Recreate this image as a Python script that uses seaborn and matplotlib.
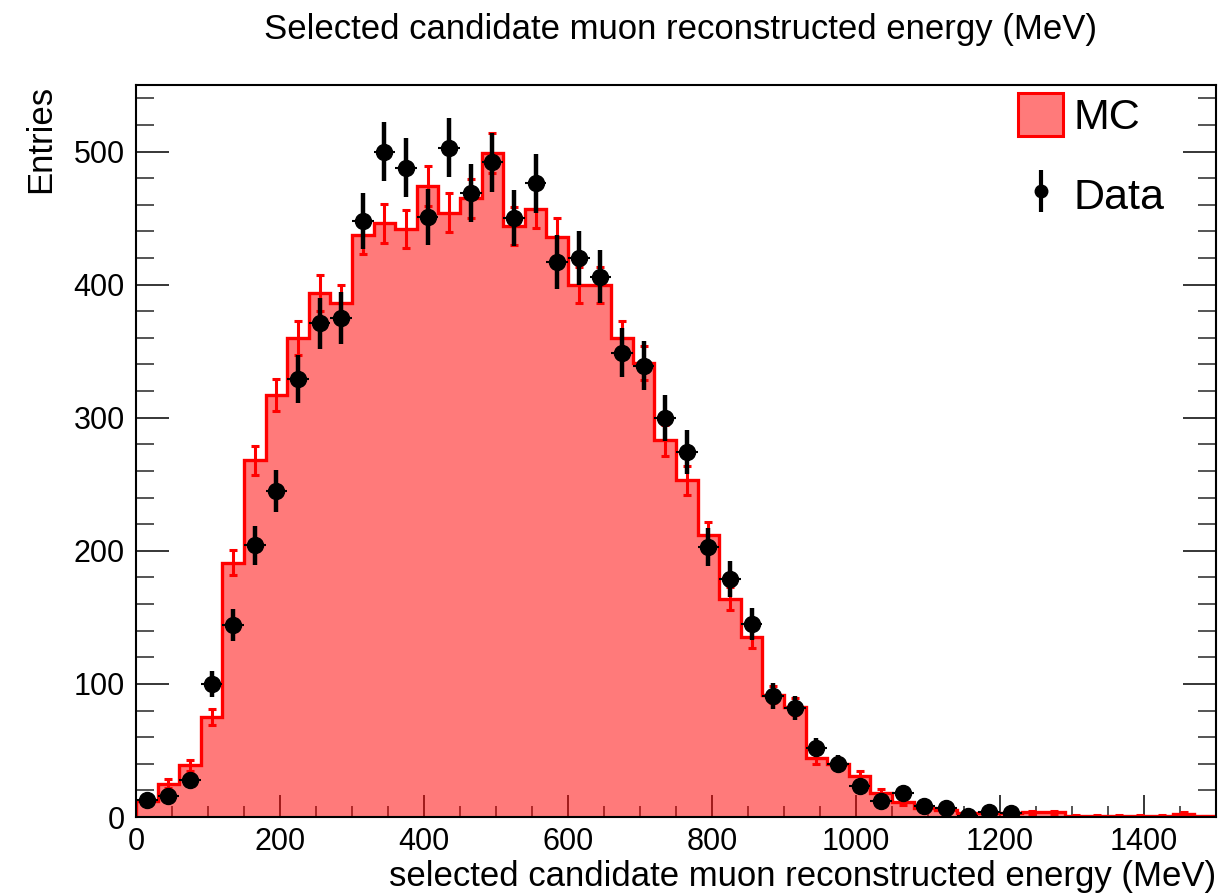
import numpy as np
import pandas as pd
import matplotlib
matplotlib.use("Agg")
import matplotlib.pyplot as plt
import seaborn as sns
from matplotlib.patches import Patch
from matplotlib.lines import Line2D
from matplotlib.legend_handler import HandlerTuple
from matplotlib.ticker import MultipleLocator

# ---- data ----
bin_edges = list(range(0, 1501, 30))
mc_values = [12, 25, 39, 75, 191, 268, 317, 360, 394, 386,
             437, 446, 442, 474, 454, 465, 499, 444, 457, 436,
             400, 400, 360, 341, 283, 253, 212, 164, 135, 92,
             83, 44, 40, 31, 18, 11, 7, 5, 3, 3,
             3, 3.5, 3.5, 1, 1, 0.8, 1, 0.8, 2.5, 0.5]
mc_errors = [2.4, 3.4, 4.2, 5.9, 9.4, 11.1, 12.1, 12.9, 13.5, 13.4,
             14.2, 14.4, 14.3, 14.8, 14.5, 14.7, 15.2, 14.3, 14.5, 14.2,
             13.6, 13.6, 12.9, 12.6, 11.4, 10.8, 9.9, 8.7, 7.9, 6.5,
             6.2, 4.5, 4.3, 3.8, 2.9, 2.3, 1.8, 1.5, 1.2, 1.2,
             1.2, 1.3, 1.3, 0.7, 0.7, 0.6, 0.7, 0.6, 1.1, 0.5]
data_values = [13, 16, 28, 100, 144, 204, 245, 329, 371, 375,
               448, 500, 488, 451, 503, 469, 492, 450, 476, 417,
               420, 406, 349, 339, 300, 274, 203, 179, 145, 91,
               82, 52, 40, 23, 12, 18, 8, 7, 1, 4, 3]
data_errors = [3.6, 4.0, 5.3, 10.0, 12.0, 14.3, 15.7, 18.1, 19.3, 19.4,
               21.2, 22.4, 22.1, 21.2, 22.4, 21.7, 22.2, 21.2, 21.8, 20.4,
               20.5, 20.1, 18.7, 18.4, 17.3, 16.6, 14.2, 13.4, 12.0, 9.5,
               9.1, 7.2, 6.3, 4.8, 3.5, 4.2, 2.8, 2.6, 1.0, 2.0, 1.7]

title = "Selected candidate muon reconstructed energy (MeV)"
xlabel = "selected candidate muon reconstructed energy (MeV)"
ylabel = "Entries"

edges = np.array(bin_edges, dtype=float)
centers = 0.5 * (edges[:-1] + edges[1:])
bin_w = edges[1] - edges[0]
half_w = 0.5 * bin_w
mc_df = pd.DataFrame({"energy": centers, "mc": mc_values})
n_data = len(data_values)

# ---- style ----
sns.set_theme(style="ticks")
plt.rcParams["font.family"] = ["Liberation Sans", "DejaVu Sans"]
plt.rcParams["text.color"] = "black"

fig = plt.figure(figsize=(12.23, 8.96), dpi=100)
ax = fig.add_axes([136 / 1223, 79 / 896, 1080 / 1223, 732 / 896])

RED = "#ff0000"
sns.histplot(data=mc_df, x="energy", weights="mc",
             binwidth=bin_w, binrange=(edges[0], edges[-1]),
             element="step", fill=True, color=RED, alpha=0.52,
             linewidth=0, ax=ax, zorder=1)
ax.stairs(mc_values, edges, color=RED, linewidth=2.4, zorder=2)
ax.errorbar(centers, mc_values, yerr=mc_errors, fmt="none",
            ecolor=RED, elinewidth=2.2, capsize=3.2, capthick=2.2, zorder=3)

ax.errorbar(centers[:n_data], data_values, xerr=half_w, fmt="none",
            ecolor="black", elinewidth=1.5, zorder=4)
ax.errorbar(centers[:n_data], data_values, yerr=data_errors, fmt="o",
            color="black", ms=11.5, elinewidth=3.2, capsize=0, zorder=5)

ax.set_xlim(0, 1500)
ax.set_ylim(0, 550)
ax.set_axisbelow(True)

ax.xaxis.set_major_locator(MultipleLocator(200))
ax.xaxis.set_minor_locator(MultipleLocator(50))
ax.yaxis.set_major_locator(MultipleLocator(100))
ax.yaxis.set_minor_locator(MultipleLocator(20))
ax.tick_params(axis="x", which="major", direction="in", length=16, width=1.1,
               labelsize=22, pad=7, top=False, colors="black")
ax.tick_params(axis="x", which="minor", direction="in", length=8, width=1.1, top=False)
ax.tick_params(axis="y", which="major", direction="in", length=24, width=1.1,
               labelsize=22, pad=8, right=True, colors="black")
ax.tick_params(axis="y", which="minor", direction="in", length=13, width=1.1, right=True)
for sp in ax.spines.values():
    sp.set_visible(True)
    sp.set_linewidth(1.5)
    sp.set_color("black")
    sp.set_zorder(6)

ax.set_xlabel(xlabel, loc="right", fontsize=25, labelpad=2, color="black")
ax.set_ylabel(ylabel, loc="top", fontsize=25, labelpad=12, color="black")
fig.text(681 / 1223, 1 - 29 / 896, title, ha="center", va="center",
         fontsize=25, color="black")

mc_handle = Patch(facecolor=(1, 0.48, 0.48), edgecolor=RED, linewidth=2.2)
data_handle = (Line2D([0], [0], marker="|", color="black", ms=30, mew=3, linestyle="none"),
               Line2D([0], [0], marker="o", color="black", ms=9, linestyle="none"))
leg = ax.legend([mc_handle, data_handle], ["MC", "Data"],
                handler_map={tuple: HandlerTuple(ndivide=1)},
                loc="upper left", bbox_to_anchor=(1018 / 1223, 1 - 93 / 896),
                bbox_transform=fig.transFigure, frameon=False, fontsize=31,
                handlelength=1.05, handleheight=1.15, handletextpad=0.25,
                labelspacing=0.82, borderpad=0, borderaxespad=0,
                labelcolor="black")

fig.savefig("out.png", dpi=100)
